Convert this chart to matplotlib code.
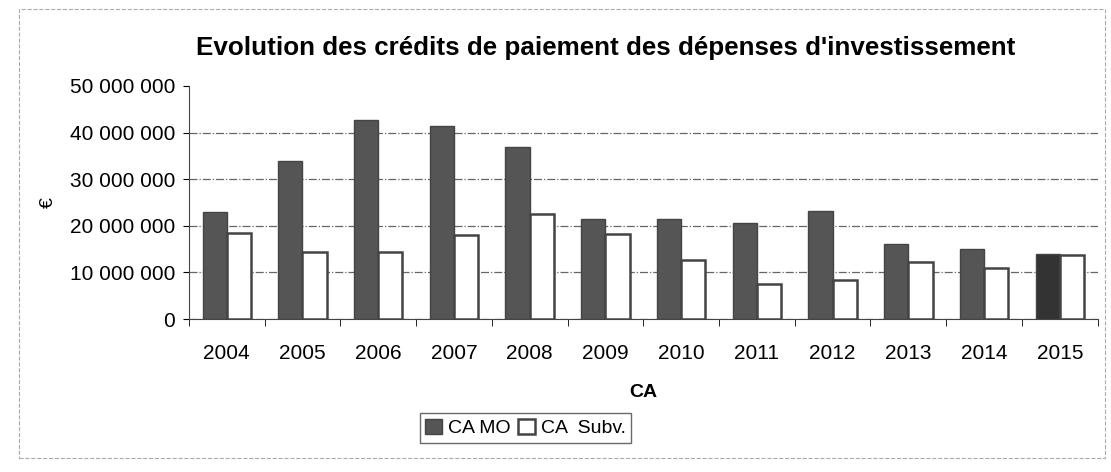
import numpy as np
import matplotlib.pyplot as plt
from matplotlib.patches import Rectangle

plt.rcParams['font.family'] = ['Liberation Sans', 'DejaVu Sans']

years = ["2004", "2005", "2006", "2007", "2008", "2009", "2010", "2011",
         "2012", "2013", "2014", "2015"]
ca_mo = [23.0, 34.0, 42.6, 41.5, 36.8, 21.5, 21.5, 20.5, 23.2, 16.0, 15.0, 14.0]
ca_subv = [18.5, 14.4, 14.3, 18.0, 22.5, 18.3, 12.6, 7.6, 8.3, 12.3, 10.9, 13.8]
ca_mo = [v * 1e6 for v in ca_mo]
ca_subv = [v * 1e6 for v in ca_subv]

fig = plt.figure(figsize=(11.11, 4.72), dpi=100)
ax = fig.add_axes([0.170, 0.324, 0.818, 0.494])

x = np.arange(len(years))
w = 0.32
mo_colors = ["#555555"] * (len(years) - 1) + ["#333333"]
ax.bar(x - w / 2, ca_mo, w, color=mo_colors, edgecolor="#444444", linewidth=1,
       label="CA MO", zorder=3)
ax.bar(x + w / 2, ca_subv, w, color="white", edgecolor="#444444", linewidth=1.8,
       label="CA  Subv.", zorder=3)

ax.set_ylim(0, 50e6)
ax.set_xlim(-0.5, len(years) - 0.5)
ax.set_yticks(np.arange(0, 50e6 + 1, 10e6))
ax.set_yticklabels(["0", "10 000 000", "20 000 000", "30 000 000",
                    "40 000 000", "50 000 000"], fontsize=15)
ax.yaxis.grid(True, linestyle="-.", color="#666666", linewidth=0.9)
ax.set_axisbelow(True)
ax.yaxis.get_gridlines()[-1].set_visible(False)

ax.set_xticks(x)
ax.set_xticklabels(years, fontsize=15)
ax.set_xticks(np.arange(-0.5, len(years)), minor=True)
ax.tick_params(axis="x", which="major", length=0, pad=18)
ax.tick_params(axis="x", which="minor", length=5, direction="out")
ax.tick_params(axis="y", length=4, pad=6)

for s in ["top", "right"]:
    ax.spines[s].set_visible(False)
ax.spines["left"].set_color("#444444")
ax.spines["bottom"].set_color("#444444")

ax.set_xlabel("CA", fontsize=14, fontweight="bold", labelpad=15)
ax.set_ylabel("€", fontsize=14, labelpad=9)
ax.set_title("Evolution des crédits de paiement des dépenses d'investissement",
             fontsize=18.7, fontweight="bold", pad=22, x=0.459)

fig.legend(loc="center", bbox_to_anchor=(0.473, 0.093), ncol=2, fontsize=14,
           frameon=True, fancybox=False, edgecolor="#444444", handlelength=0.85,
           handleheight=0.85, handletextpad=0.3, columnspacing=0.4,
           borderpad=0.3)

fig.patches.append(Rectangle((0.017, 0.03), 0.978, 0.95, transform=fig.transFigure,
                             fill=False, linestyle="--", edgecolor="#aaaaaa",
                             linewidth=0.8))

fig.savefig("out.png", dpi=100)
